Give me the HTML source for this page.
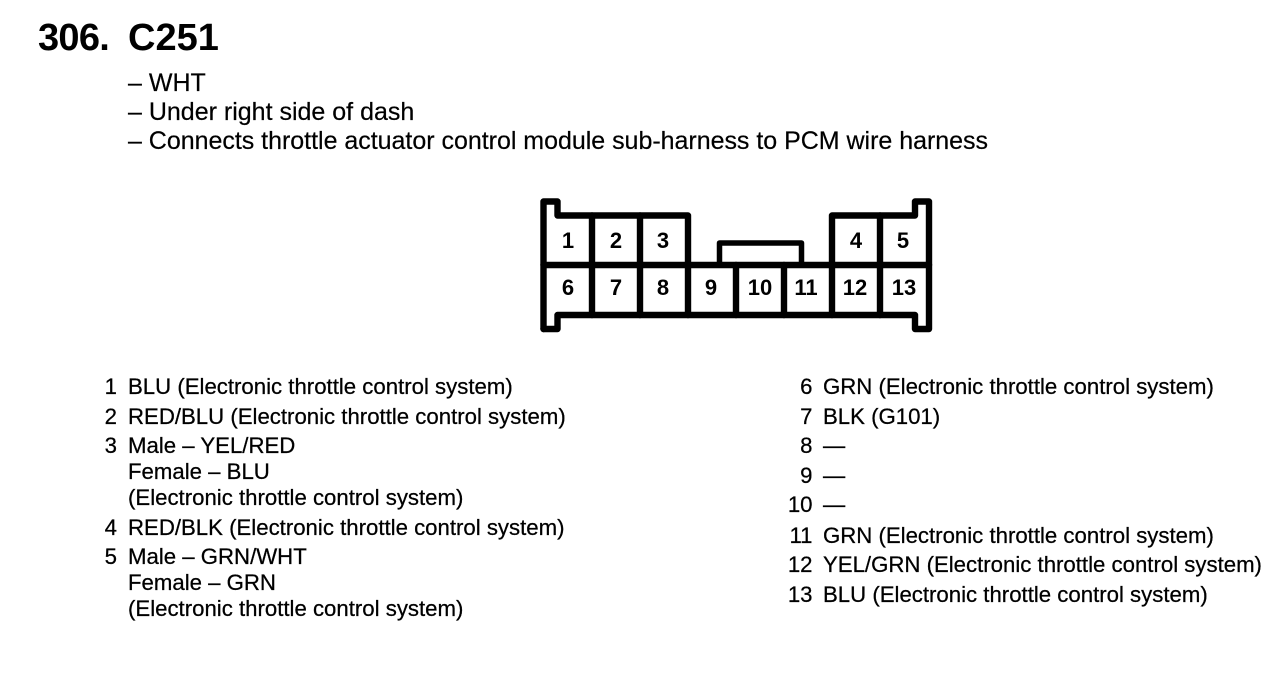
<!DOCTYPE html>
<html><head><meta charset="utf-8"><style>
html,body{margin:0;padding:0;background:#fff}
svg{display:block}
text{font-family:"Liberation Sans",sans-serif;fill:#000}
.h{font-size:25px;stroke:#000;stroke-width:.2px}
.b{font-size:22.2px;stroke:#000;stroke-width:.25px}
.d{font-size:22px;font-weight:bold;text-anchor:middle}
.n{text-anchor:end}
</style></head><body>
<svg width="1280" height="674" viewBox="0 0 1280 674" xmlns="http://www.w3.org/2000/svg">
<rect width="1280" height="674" fill="#fff"/>
<text x="38" y="50" font-size="38" font-weight="bold" letter-spacing="-.7">306.</text>
<text x="128" y="50" font-size="38" font-weight="bold">C251</text>
<text class="h" x="128" y="91">– WHT</text>
<text class="h" x="128" y="120">– Under right side of dash</text>
<text class="h" x="128" y="149" textLength="860">– Connects throttle actuator control module sub-harness to PCM wire harness</text>
<g fill="none" stroke="#000" stroke-width="6.4" stroke-linejoin="round" stroke-linecap="round">
<path d="M543.5 329V201.5H557.5V215.5H688V265"/>
<path d="M832 265V215.5H915V201.5H929V329H915V315H557.5V329H543.5"/>
<path d="M543.5 265H929"/>
<path d="M592 215.5V315M640 215.5V315M688 265V315M736 265V315M784 265V315M832 265V315M880 215.5V315"/>
<path d="M719.5 265V243H801.5V265" stroke-width="5.5"/>
</g>
<text class="d" x="568" y="248">1</text><text class="d" x="616" y="248">2</text><text class="d" x="663" y="248">3</text><text class="d" x="856" y="248">4</text><text class="d" x="903" y="248">5</text>
<text class="d" x="568" y="295">6</text><text class="d" x="616" y="295">7</text><text class="d" x="663" y="295">8</text><text class="d" x="711" y="295">9</text><text class="d" x="760" y="295">10</text><text class="d" x="806" y="295">11</text><text class="d" x="855" y="295">12</text><text class="d" x="904" y="295">13</text>
<g>
<text class="b n" x="117" y="394">1</text><text class="b" x="128" y="394">BLU (Electronic throttle control system)</text>
<text class="b n" x="117" y="424">2</text><text class="b" x="128" y="424">RED/BLU (Electronic throttle control system)</text>
<text class="b n" x="117" y="453">3</text><text class="b" x="128" y="453">Male – YEL/RED</text>
<text class="b" x="128" y="479">Female – BLU</text>
<text class="b" x="128" y="505">(Electronic throttle control system)</text>
<text class="b n" x="117" y="535">4</text><text class="b" x="128" y="535">RED/BLK (Electronic throttle control system)</text>
<text class="b n" x="117" y="564">5</text><text class="b" x="128" y="564">Male – GRN/WHT</text>
<text class="b" x="128" y="590">Female – GRN</text>
<text class="b" x="128" y="616">(Electronic throttle control system)</text>
<text class="b n" x="812.5" y="394">6</text><text class="b" x="823" y="394">GRN (Electronic throttle control system)</text>
<text class="b n" x="812.5" y="424">7</text><text class="b" x="823" y="424">BLK (G101)</text>
<text class="b n" x="812.5" y="453">8</text><text class="b" x="823" y="453">—</text>
<text class="b n" x="812.5" y="483">9</text><text class="b" x="823" y="483">—</text>
<text class="b n" x="812.5" y="512">10</text><text class="b" x="823" y="512">—</text>
<text class="b n" x="812.5" y="543">11</text><text class="b" x="823" y="543">GRN (Electronic throttle control system)</text>
<text class="b n" x="812.5" y="572">12</text><text class="b" x="823" y="572">YEL/GRN (Electronic throttle control system)</text>
<text class="b n" x="812.5" y="602">13</text><text class="b" x="823" y="602">BLU (Electronic throttle control system)</text>
</g>
</svg>
</body></html>
